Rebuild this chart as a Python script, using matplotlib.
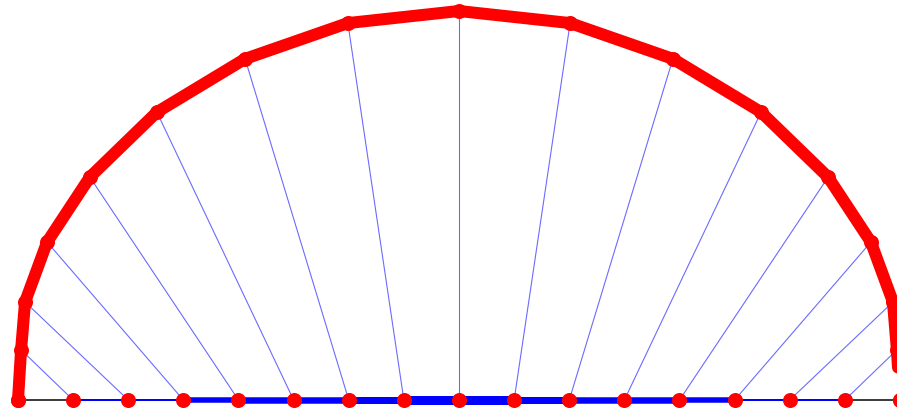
import matplotlib
matplotlib.use('Agg')
import matplotlib.pyplot as plt

# points on the (half) circle, unit coordinates
arc_x = [-1.0, -0.993, -0.984, -0.934, -0.837, -0.685, -0.485, -0.252, 0.0,
         0.252, 0.485, 0.685, 0.837, 0.934, 0.984, 0.993, 1.0]
arc_y = [0.0, 0.129, 0.252, 0.406, 0.573, 0.740, 0.877, 0.969, 1.0,
         0.969, 0.877, 0.740, 0.573, 0.406, 0.252, 0.129, 0.0]

# equally spaced points on the base line
base_x = [-1.0, -0.875, -0.75, -0.625, -0.5, -0.375, -0.25, -0.125, 0.0,
          0.125, 0.25, 0.375, 0.5, 0.625, 0.75, 0.875, 1.0]

# weight of each blue base segment (between base_x[i+1] and base_x[i+2])
seg_w = [2, 2, 5.5, 6.5, 6.5, 7, 9, 9, 7, 6.5, 6.5, 5.5, 2, 2]

px = 0.72  # points per pixel at dpi 100


def plotArc():

    fig = plt.figure(figsize=(8.97, 4.12), dpi=100)
    ax = fig.add_axes([0, 0, 1, 1])

    # baseline
    ax.plot([base_x[0], base_x[-1]], [0, 0], '-', color='black',
            linewidth=1.5 * px, zorder=1)

    # weighted blue pieces of the baseline
    for i, w in enumerate(seg_w):
        ax.plot([base_x[i + 1], base_x[i + 2]], [0, 0], '-', color='#0000FF',
                linewidth=w * px, solid_capstyle='butt', zorder=2)

    # thin connectors arc -> base
    for xa, ya, xb in zip(arc_x[1:-1], arc_y[1:-1], base_x[1:-1]):
        ax.plot([xa, xb], [ya, 0], '-', color='#6a6aff',
                linewidth=1.1 * px, zorder=3)

    # the arc itself
    ax.plot(arc_x, arc_y, '-', color='#FF0000', linewidth=12 * px,
            solid_joinstyle='round', solid_capstyle='round', zorder=4)
    ax.plot(arc_x, arc_y, 'o', color='#FF0000', markersize=15 * px,
            markeredgewidth=0, zorder=5)

    # dots on the base
    ax.plot(base_x, [0] * len(base_x), 'o', color='#FF0000',
            markersize=15 * px, markeredgewidth=0, zorder=5)

    ax.set_xlim(-1.0408, 0.9932)
    ax.set_ylim(-0.0308, 1.0283)
    ax.axis('off')

    fig.savefig('out.png', dpi=100)
    plt.close(fig)


if __name__ == "__main__":

    plotArc()
